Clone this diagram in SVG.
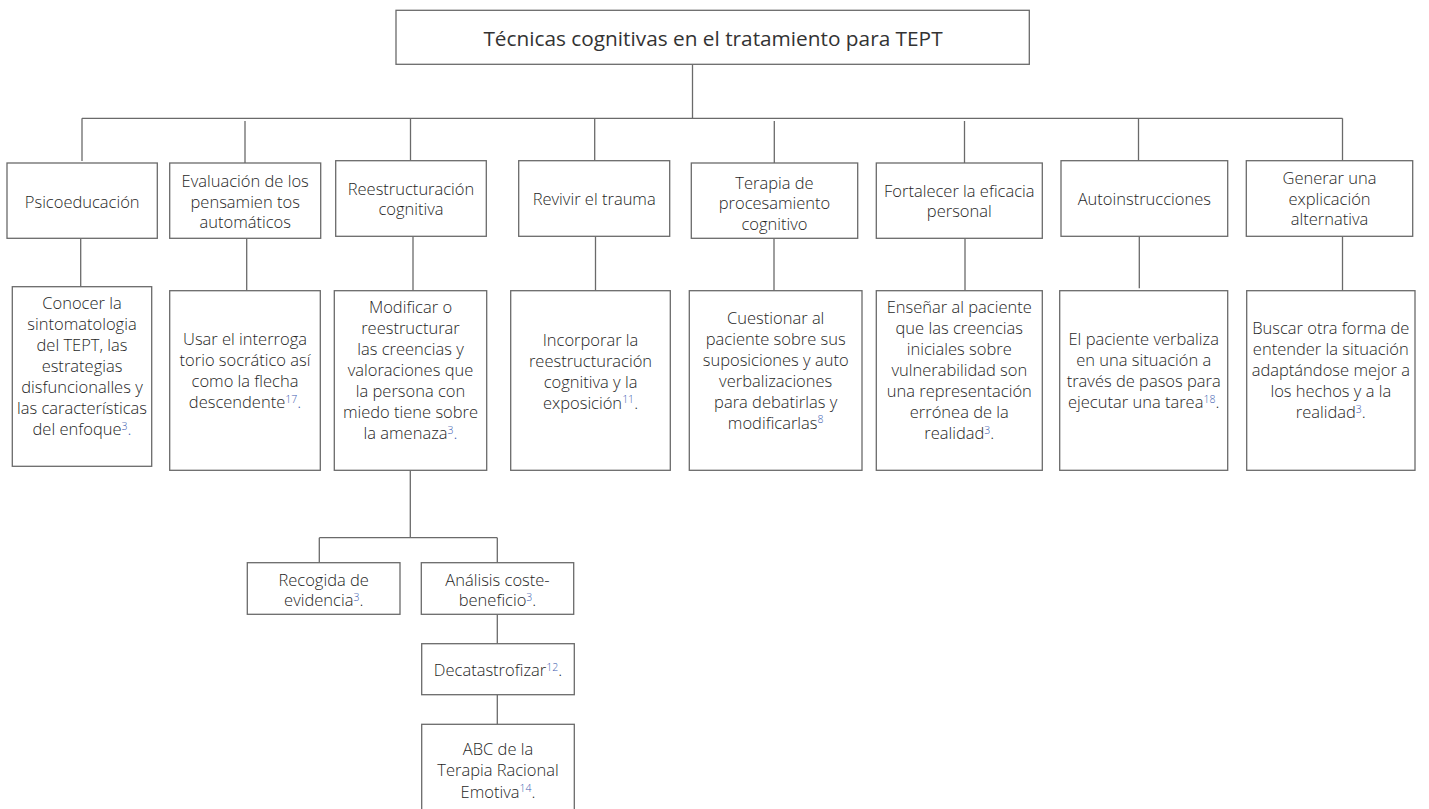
<svg xmlns="http://www.w3.org/2000/svg" width="1429" height="809" viewBox="0 0 1429 809">
<style>
  .box { fill: #ffffff; stroke: #6a6a6a; stroke-width: 1.3; }
  .conn line { stroke: #6a6a6a; stroke-width: 1.3; }
  .t { font-family: "Open Sans", "Liberation Sans", sans-serif; font-size: 16.5px; font-weight: 300; fill: #1f1f1f; text-anchor: middle; }
  .title { font-family: "Open Sans", "Liberation Sans", sans-serif; font-size: 20.8px; font-weight: 400; fill: #333333; text-anchor: middle; }
  .sup { font-size: 10.5px; fill: #3f5eb0; }
  .bl { fill: #3f5eb0; }
</style>
<rect width="1429" height="809" fill="#ffffff"/>

<g id="connectors" class="conn">
  <line x1="692.5" y1="64.3" x2="692.5" y2="118.3"/>
  <line x1="82" y1="118.3" x2="1342.5" y2="118.3"/>
  <line x1="82" y1="118.3" x2="82" y2="161"/>
  <line x1="245" y1="121" x2="245" y2="163"/>
  <line x1="410.5" y1="118.3" x2="410.5" y2="160.7"/>
  <line x1="594.7" y1="118.3" x2="594.7" y2="160.7"/>
  <line x1="774.3" y1="121" x2="774.3" y2="163"/>
  <line x1="964.5" y1="121" x2="964.5" y2="163"/>
  <line x1="1138.5" y1="118.3" x2="1138.5" y2="160.7"/>
  <line x1="1342.5" y1="118.3" x2="1342.5" y2="160.7"/>
  <line x1="80.7" y1="238.3" x2="80.7" y2="286.7"/>
  <line x1="246.7" y1="238.3" x2="246.7" y2="290.7"/>
  <line x1="413" y1="236.3" x2="413" y2="290.7"/>
  <line x1="595.5" y1="236.3" x2="595.5" y2="290.7"/>
  <line x1="774" y1="238.3" x2="774" y2="290.7"/>
  <line x1="965" y1="238.3" x2="965" y2="290.7"/>
  <line x1="1139.3" y1="236.3" x2="1139.3" y2="288.3"/>
  <line x1="1342.5" y1="236.3" x2="1342.5" y2="290.7"/>
  <line x1="410.3" y1="470.3" x2="410.3" y2="537.7"/>
  <line x1="319.3" y1="537.7" x2="497.3" y2="537.7"/>
  <line x1="319.3" y1="537.7" x2="319.3" y2="562.7"/>
  <line x1="497.3" y1="537.7" x2="497.3" y2="562.7"/>
  <line x1="497.3" y1="614.3" x2="497.3" y2="643.7"/>
  <line x1="497.3" y1="694.7" x2="497.3" y2="724.3"/>
</g>

<g id="n-title">
  <rect class="box" x="396" y="10.3" width="633.3" height="54"/>
  <text class="title" x="713" y="45.5">Técnicas cognitivas en el tratamiento para TEPT</text>
</g>

<g id="n-psicoeducacion">
  <rect class="box" x="7" y="163" width="150.3" height="75.3"/>
  <text class="t" x="82.2" y="207.5">Psicoeducación</text>
</g>
<g id="n-evaluacion">
  <rect class="box" x="169.7" y="163" width="151" height="75.3"/>
  <text class="t" x="245.2" y="187"><tspan x="245.2">Evaluación de los</tspan><tspan x="245.2" dy="20.5">pensamien tos</tspan><tspan x="245.2" dy="20.5">automáticos</tspan></text>
</g>
<g id="n-reestructuracion">
  <rect class="box" x="335.7" y="160.7" width="150.6" height="75.6"/>
  <text class="t" x="411" y="194.5"><tspan x="411">Reestructuración</tspan><tspan x="411" dy="20.5">cognitiva</tspan></text>
</g>
<g id="n-revivir">
  <rect class="box" x="518.7" y="160.7" width="151" height="75.6"/>
  <text class="t" x="594.2" y="205">Revivir el trauma</text>
</g>
<g id="n-terapia">
  <rect class="box" x="691.3" y="163" width="166.4" height="75.3"/>
  <text class="t" x="774.5" y="188.5"><tspan x="774.5">Terapia de</tspan><tspan x="774.5" dy="20.5">procesamiento</tspan><tspan x="774.5" dy="20.5">cognitivo</tspan></text>
</g>
<g id="n-fortalecer">
  <rect class="box" x="876.3" y="163" width="166" height="75.3"/>
  <text class="t" x="959.3" y="196.5"><tspan x="959.3">Fortalecer la eficacia</tspan><tspan x="959.3" dy="20.5">personal</tspan></text>
</g>
<g id="n-autoinstrucciones">
  <rect class="box" x="1061" y="160.7" width="166.7" height="75.6"/>
  <text class="t" x="1144.3" y="205">Autoinstrucciones</text>
</g>
<g id="n-generar">
  <rect class="box" x="1246.3" y="160.7" width="166.4" height="75.6"/>
  <text class="t" x="1329.5" y="184"><tspan x="1329.5">Generar una</tspan><tspan x="1329.5" dy="20.5">explicación</tspan><tspan x="1329.5" dy="20.5">alternativa</tspan></text>
</g>

<g id="n-conocer">
  <rect class="box" x="12.3" y="286.7" width="139.4" height="179.6"/>
  <text class="t" x="82" y="309"><tspan x="82">Conocer la</tspan><tspan x="82" dy="21">sintomatologia</tspan><tspan x="82" dy="21">del TEPT, las</tspan><tspan x="82" dy="21">estrategias</tspan><tspan x="82" dy="21">disfuncionalles y</tspan><tspan x="82" dy="21">las características</tspan><tspan x="82" dy="21">del enfoque</tspan><tspan class="sup" dy="-5.5">3</tspan><tspan class="bl" dy="5.5">.</tspan></text>
</g>
<g id="n-usar">
  <rect class="box" x="169.7" y="290.7" width="150.6" height="179.6"/>
  <text class="t" x="245" y="345"><tspan x="245">Usar el interroga</tspan><tspan x="245" dy="21">torio socrático así</tspan><tspan x="245" dy="21">como la flecha</tspan><tspan x="245" dy="21">descendente</tspan><tspan class="sup" dy="-5.5">17</tspan><tspan class="bl" dy="5.5">.</tspan></text>
</g>
<g id="n-modificar">
  <rect class="box" x="334.3" y="290.7" width="152.4" height="179.6"/>
  <text class="t" x="410.5" y="313"><tspan x="410.5">Modificar o</tspan><tspan x="410.5" dy="21">reestructurar</tspan><tspan x="410.5" dy="21">las creencias y</tspan><tspan x="410.5" dy="21">valoraciones que</tspan><tspan x="410.5" dy="21">la persona con</tspan><tspan x="410.5" dy="21">miedo tiene sobre</tspan><tspan x="410.5" dy="21">la amenaza</tspan><tspan class="sup" dy="-5.5">3</tspan><tspan class="bl" dy="5.5">.</tspan></text>
</g>
<g id="n-incorporar">
  <rect class="box" x="510.7" y="290.7" width="159.6" height="179.6"/>
  <text class="t" x="590.5" y="345.5"><tspan x="590.5">Incorporar la</tspan><tspan x="590.5" dy="21">reestructuración</tspan><tspan x="590.5" dy="21">cognitiva y la</tspan><tspan x="590.5" dy="21">exposición</tspan><tspan class="sup" dy="-5.5">11</tspan><tspan dy="5.5">.</tspan></text>
</g>
<g id="n-cuestionar">
  <rect class="box" x="689.3" y="290.7" width="172.7" height="179.6"/>
  <text class="t" x="775.7" y="323.5"><tspan x="775.7">Cuestionar al</tspan><tspan x="775.7" dy="21">paciente sobre sus</tspan><tspan x="775.7" dy="21">suposiciones y auto</tspan><tspan x="775.7" dy="21">verbalizaciones</tspan><tspan x="775.7" dy="21">para debatirlas y</tspan><tspan x="775.7" dy="21">modificarlas</tspan><tspan class="sup" dy="-5.5">8</tspan></text>
</g>
<g id="n-ensenar">
  <rect class="box" x="876.3" y="290.7" width="166" height="179.6"/>
  <text class="t" x="959.3" y="313"><tspan x="959.3">Enseñar al paciente</tspan><tspan x="959.3" dy="21">que las creencias</tspan><tspan x="959.3" dy="21">iniciales sobre</tspan><tspan x="959.3" dy="21">vulnerabilidad son</tspan><tspan x="959.3" dy="21">una representación</tspan><tspan x="959.3" dy="21">errónea de la</tspan><tspan x="959.3" dy="21">realidad</tspan><tspan class="sup" dy="-5.5">3</tspan><tspan dy="5.5">.</tspan></text>
</g>
<g id="n-elpaciente">
  <rect class="box" x="1059.7" y="290.7" width="168" height="179.6"/>
  <text class="t" x="1143.7" y="345"><tspan x="1143.7">El paciente verbaliza</tspan><tspan x="1143.7" dy="21">en una situación a</tspan><tspan x="1143.7" dy="21">través de pasos para</tspan><tspan x="1143.7" dy="21">ejecutar una tarea</tspan><tspan class="sup" dy="-5.5">18</tspan><tspan dy="5.5">.</tspan></text>
</g>
<g id="n-buscar">
  <rect class="box" x="1246.7" y="290.7" width="168.3" height="179.6"/>
  <text class="t" x="1330.8" y="334"><tspan x="1330.8">Buscar otra forma de</tspan><tspan x="1330.8" dy="21">entender la situación</tspan><tspan x="1330.8" dy="21">adaptándose mejor a</tspan><tspan x="1330.8" dy="21">los hechos y a la</tspan><tspan x="1330.8" dy="21">realidad</tspan><tspan class="sup" dy="-5.5">3</tspan><tspan dy="5.5">.</tspan></text>
</g>

<g id="n-recogida">
  <rect class="box" x="247.3" y="562.7" width="152.7" height="51.6"/>
  <text class="t" x="323.7" y="585.5"><tspan x="323.7">Recogida de</tspan><tspan x="323.7" dy="20.5">evidencia</tspan><tspan class="sup" dy="-5.5">3</tspan><tspan dy="5.5">.</tspan></text>
</g>
<g id="n-analisis">
  <rect class="box" x="421.3" y="562.7" width="152.4" height="51.6"/>
  <text class="t" x="497.5" y="585.5"><tspan x="497.5">Análisis coste-</tspan><tspan x="497.5" dy="20.5">beneficio</tspan><tspan class="sup" dy="-5.5">3</tspan><tspan dy="5.5">.</tspan></text>
</g>
<g id="n-decatastrofizar">
  <rect class="box" x="421.7" y="643.7" width="152.6" height="51"/>
  <text class="t" x="498" y="676">Decatastrofizar<tspan class="sup" dy="-5.5">12</tspan><tspan dy="5.5">.</tspan></text>
</g>
<g id="n-abc">
  <rect class="box" x="421.7" y="724.3" width="152.6" height="100"/>
  <text class="t" x="498" y="754.5"><tspan x="498">ABC de la</tspan><tspan x="498" dy="21.5">Terapia Racional</tspan><tspan x="498" dy="21.5">Emotiva</tspan><tspan class="sup" dy="-5.5">14</tspan><tspan dy="5.5">.</tspan></text>
</g>
</svg>
